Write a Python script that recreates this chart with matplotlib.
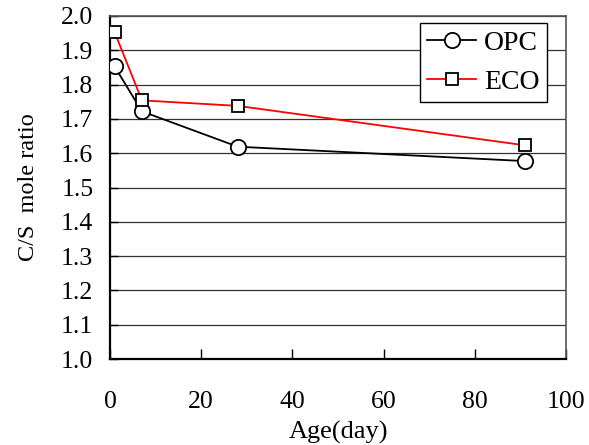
import matplotlib.pyplot as plt
from matplotlib.ticker import MultipleLocator

plt.rcParams['font.family'] = ['Liberation Serif', 'DejaVu Serif']

# 材龄与C/S摩尔比
age = [1, 7, 28, 91]
opc_cs = [1.853, 1.722, 1.619, 1.577]
eco_cs = [1.953, 1.754, 1.738, 1.623]

fig = plt.figure(figsize=(5.89, 4.45), dpi=100)
ax = fig.add_axes([110 / 589, 1 - 359 / 445, 456 / 589, 343 / 445])

ax.plot(age, opc_cs, color='black', lw=1.3, marker='o', ms=11,
        mfc='white', mec='black', mew=1.3, label='OPC', zorder=3)
ax.plot(age, eco_cs, color='red', lw=1.3, marker='s', ms=8,
        mfc='white', mec='black', mew=1.3, label='ECO', zorder=3)

ax.set_xlim(0, 100)
ax.set_ylim(1.0, 2.0)
ax.xaxis.set_major_locator(MultipleLocator(20))
ax.yaxis.set_major_locator(MultipleLocator(0.1))
ax.yaxis.set_major_formatter(plt.FormatStrFormatter('%.1f'))
ax.grid(axis='y', color='#333333', lw=0.9)
ax.set_axisbelow(True)

ax.tick_params(axis='x', direction='in', length=7, width=1, pad=23, labelsize=18.5)
ax.tick_params(axis='y', direction='in', length=6, width=1, pad=12, labelsize=18.5)

for s in ['left', 'bottom']:
    ax.spines[s].set_linewidth(1.6)
    ax.spines[s].set_color('black')
for s in ['top', 'right']:
    ax.spines[s].set_linewidth(1.2)
    ax.spines[s].set_color('#555555')

ax.set_xlabel('Age(day)', fontsize=19, labelpad=6)
ax.set_ylabel('C/S  mole ratio', fontsize=17.5, labelpad=16)

leg = ax.legend(loc='upper right', bbox_to_anchor=(0.97, 0.995), fontsize=20,
                frameon=True, fancybox=False, edgecolor='black',
                handlelength=1.75, borderpad=0.25, labelspacing=0.5,
                handletextpad=0.3, borderaxespad=0.2)
leg.get_frame().set_linewidth(1.0)
leg.get_frame().set_alpha(1)

fig.savefig('out.png', dpi=100)
